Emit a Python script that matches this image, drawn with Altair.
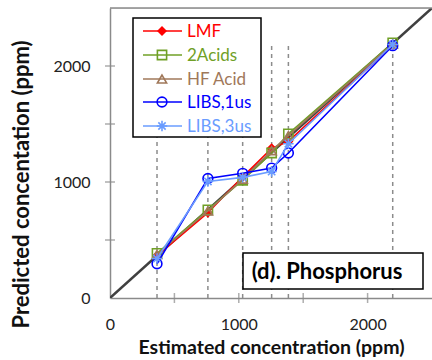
import altair as alt
import pandas as pd

# Estimated concentrations (ppm) of the six samples
x_est = [365, 760, 1030, 1255, 1385, 2195]

# Predicted concentrations (ppm) per method
lmf = [365, 735, 1045, 1290, 1350, 2180]
acids2 = [385, 760, 1015, 1250, 1415, 2200]
hf_acid = [375, 750, 1025, 1270, 1400, 2190]
libs_1us = [295, 1030, 1075, 1120, 1250, 2175]
libs_3us = [340, 1005, 1040, 1090, 1330, 2185]

series_names = ["LMF", "2Acids", "HF Acid", "LIBS,1us", "LIBS,3us"]
series_values = [lmf, acids2, hf_acid, libs_1us, libs_3us]
series_colors = ["#FF0000", "#70A026", "#A0785A", "#0000FF", "#6A9CFF"]
asterisk = "M-1,0L1,0M0,-1L0,1M-0.7,-0.7L0.7,0.7M-0.7,0.7L0.7,-0.7"
series_shapes = ["diamond", "square", "triangle-up", "circle", asterisk]
series_filled = [True, False, False, False, False]
series_sizes = [100, 85, 85, 95, 110]

guide_top = 2200          # dashed guides run up to this level
diag = [0, 2500]          # 1:1 reference line
axis_ticks = [0, 500, 1000, 1500, 2000]
tick_labels = [0, 1000, 2000]

W, H = 322, 290
FONT = "Lato"

xs = alt.Scale(domain=[0, 2500], nice=False)
ys = alt.Scale(domain=[0, 2500], nice=False)

x_axis = alt.Axis(values=tick_labels, format="d", ticks=False, grid=False, domainColor="#8A8A8A",
                  domainWidth=1.5, labelFontSize=16, labelColor="#222222", labelFont=FONT,
                  labelPadding=18, labelFlush=False, title="Estimated concentration (ppm)",
                  titleFontSize=19.5, titleFont=FONT, titleFontWeight="bold",
                  titleColor="#111111", titlePadding=6)
y_axis = alt.Axis(values=tick_labels, format="d", ticks=False, grid=False, domainColor="#8A8A8A",
                  domainWidth=1.5, labelFontSize=16, labelColor="#222222", labelFont=FONT,
                  labelPadding=20, labelFlush=False, title="Predicted concentation (ppm)",
                  titleFontSize=22, titleFont=FONT, titleFontWeight="bold",
                  titleColor="#111111", titleX=-77, titleY=176)

guides_df = pd.DataFrame({"x": x_est, "y0": [0] * len(x_est), "y1": [guide_top] * len(x_est)})
guides = alt.Chart(guides_df).mark_rule(color="#8C8C8C", strokeDash=[4, 4], strokeWidth=1.5).encode(
    x=alt.X("x:Q", scale=xs, axis=x_axis),
    y=alt.Y("y0:Q", scale=ys, axis=y_axis),
    y2="y1:Q",
)

diag_df = pd.DataFrame({"x": diag, "y": diag})
diagonal = alt.Chart(diag_df).mark_line(color="#404040", strokeWidth=2.5, clip=True).encode(
    x=alt.X("x:Q", scale=xs), y=alt.Y("y:Q", scale=ys)
)

layers = [guides, diagonal]
for name, vals, col, shp, fil, sz in zip(series_names, series_values, series_colors,
                                         series_shapes, series_filled, series_sizes):
    df = pd.DataFrame({"x": x_est, "y": vals})
    base = alt.Chart(df).encode(x=alt.X("x:Q", scale=xs), y=alt.Y("y:Q", scale=ys))
    layers.append(base.mark_line(color=col, strokeWidth=1.6))
    layers.append(base.mark_point(shape=shp, filled=fil, color=col, size=sz,
                                  strokeWidth=1.6, opacity=1))

# cross ticks on both axes
tick_df = pd.DataFrame({"v": axis_ticks[1:]})
layers.append(alt.Chart(tick_df).mark_tick(color="#8A8A8A", size=10, thickness=1.5, orient="vertical").encode(
    x=alt.X("v:Q", scale=xs), y=alt.value(H)))
layers.append(alt.Chart(tick_df).mark_tick(color="#8A8A8A", size=10, thickness=1.5, orient="horizontal").encode(
    y=alt.Y("v:Q", scale=ys), x=alt.value(0)))

one = pd.DataFrame({"k": [0]})

# top frame line
layers.append(alt.Chart(one).mark_rule(color="#8A8A8A", strokeWidth=1.5).encode(
    x=alt.value(0), x2=alt.value(W), y=alt.value(0)))

# legend box
layers.append(alt.Chart(one).mark_rect(fill="white", stroke="black", strokeWidth=1.5).encode(
    x=alt.value(23), x2=alt.value(151), y=alt.value(10), y2=alt.value(129)))
row_y = [23, 47, 71, 94, 118]
for name, col, shp, fil, sz, ry in zip(series_names, series_colors, series_shapes,
                                       series_filled, series_sizes, row_y):
    d = pd.DataFrame({"label": [name]})
    layers.append(alt.Chart(d).mark_rule(color=col, strokeWidth=1.6).encode(
        x=alt.value(33), x2=alt.value(72), y=alt.value(ry)))
    layers.append(alt.Chart(d).mark_point(shape=shp, filled=fil, color=col, opacity=1,
                                          size=sz, strokeWidth=1.6).encode(
        x=alt.value(52), y=alt.value(ry)))
    layers.append(alt.Chart(d).mark_text(align="left", baseline="middle", font=FONT, fontSize=17,
                                         color=col).encode(
        x=alt.value(77), y=alt.value(ry + 1), text="label:N"))

# panel label
panel = pd.DataFrame({"label": ["(d). Phosphorus"]})
layers.append(alt.Chart(panel).mark_rect(fill="white", stroke="black", strokeWidth=1.5).encode(
    x=alt.value(133), x2=alt.value(313), y=alt.value(245), y2=alt.value(281)))
layers.append(alt.Chart(panel).mark_text(align="center", baseline="middle", font=FONT, fontSize=22,
                                         fontWeight="bold", color="black").encode(
    x=alt.value(217), y=alt.value(264), text="label:N"))

chart = alt.layer(*layers).properties(
    width=W, height=H,
    autosize=alt.AutoSizeParams(type="none"),
    padding={"left": 110, "top": 8, "right": 0, "bottom": 62},
).configure_view(stroke=None).configure(background="white")

chart.save("out.html", embed_options={"renderer": "svg", "actions": False})
